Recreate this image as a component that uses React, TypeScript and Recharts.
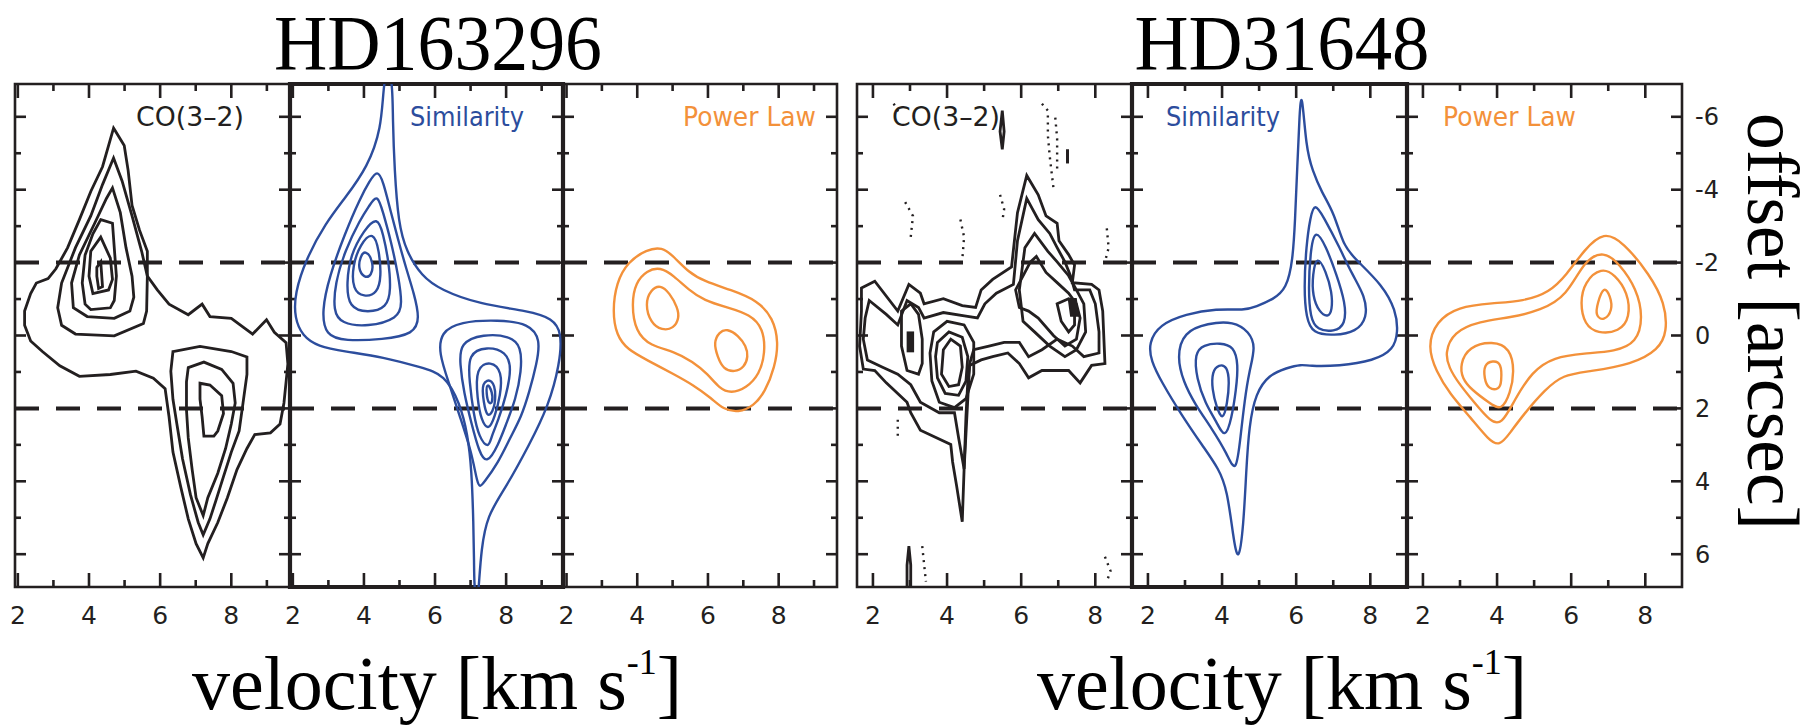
import React from 'react';
import { LineChart, Line, XAxis, YAxis, ReferenceLine, ReferenceArea } from 'recharts';

const INK = '#231f20';
const BLUE = '#2c4d9d';
const ORANGE = '#f3913a';

// offset runs downward on every panel
const OFFSET_DOMAIN = [-6.9, 6.9];
const OFFSET_MAJOR = [-6, -4, -2, 0, 2, 4, 6];
const OFFSET_TICKS = [-6, -5, -4, -3, -2, -1, 0, 1, 2, 3, 4, 5, 6];
const SLIT_EDGES = [-2, 2];
const VEL_MAJOR = [2, 4, 6, 8];
const VEL_TICKS_HD163296 = [2, 3, 4, 5, 6, 7, 8, 9];
const VEL_TICKS_HD31648 = [2, 3, 4, 5, 6, 7, 8];

// ---- HD163296, CO(3-2) ----  [velocity, offset]
const hd1CoOuter = [[4.69,-5.69],[4.99,-5.21],[5.10,-4.53],[5.21,-3.57],[5.42,-2.89],[5.64,-2.31],[5.64,-1.63],[5.92,-1.25],[6.25,-0.86],[6.79,-0.57],[7.18,-0.86],[7.40,-0.52],[8.00,-0.47],[8.60,-0.04],[8.99,-0.43],[9.21,-0.09],[9.54,0.20],[9.59,0.78],[9.54,1.27],[9.48,1.85],[9.37,2.43],[9.10,2.67],[8.66,2.72],[8.44,3.10],[8.16,3.68],[7.89,4.45],[7.62,5.13],[7.34,5.71],[7.21,6.10],[7.01,5.71],[6.79,5.03],[6.58,4.16],[6.36,3.20],[6.25,2.23],[6.14,1.46],[5.81,1.17],[5.32,0.98],[4.60,1.07],[3.73,1.12],[3.18,0.83],[2.69,0.44],[2.36,0.15],[2.19,-0.28],[2.19,-0.67],[2.36,-1.15],[2.52,-1.44],[2.85,-1.56],[3.07,-1.83],[3.40,-2.41],[3.73,-3.18],[4.05,-3.95],[4.38,-4.63],[4.55,-5.21]];
const hd1CoBlue2 = [[4.69,-4.87],[4.93,-4.24],[5.21,-3.28],[5.48,-2.31],[5.64,-1.63],[5.62,-0.67],[5.53,-0.33],[4.71,0.01],[3.62,-0.04],[3.23,-0.28],[3.12,-0.76],[3.23,-1.44],[3.62,-2.41],[4.05,-3.28],[4.38,-4.14]];
const hd1CoBlue3 = [[4.66,-4.05],[4.88,-3.37],[5.04,-2.41],[5.21,-1.63],[5.26,-1.05],[5.15,-0.67],[4.71,-0.47],[3.95,-0.52],[3.56,-0.76],[3.51,-1.44],[3.73,-2.21],[4.16,-3.08],[4.49,-3.76]];
const hd1CoBlue4 = [[4.33,-3.18],[4.66,-3.08],[4.71,-2.41],[4.77,-1.63],[4.71,-0.96],[4.60,-0.76],[4.05,-0.71],[3.89,-0.86],[3.81,-1.44],[3.89,-2.21],[4.11,-2.79]];
const hd1CoBlue5 = [[4.33,-2.70],[4.60,-2.12],[4.66,-1.54],[4.55,-1.25],[4.11,-1.15],[4.00,-1.63],[4.05,-2.31]];
const hd1CoBlue6 = [[4.22,-1.87],[4.33,-2.02],[4.38,-1.34],[4.27,-1.29],[4.22,-1.63]];
const hd1CoRed2 = [[6.36,0.44],[7.12,0.30],[8.00,0.44],[8.44,0.59],[8.44,1.07],[8.33,1.85],[8.22,2.62],[8.00,3.20],[7.78,3.87],[7.56,4.55],[7.40,5.03],[7.21,5.47],[7.07,5.13],[6.85,4.36],[6.63,3.39],[6.47,2.43],[6.36,1.75],[6.30,0.98]];
const hd1CoRed3 = [[6.79,0.88],[7.23,0.73],[7.73,0.93],[8.05,1.31],[8.11,1.85],[8.00,2.43],[7.84,3.10],[7.62,3.78],[7.34,4.45],[7.21,4.94],[7.01,4.45],[6.90,3.68],[6.79,2.81],[6.74,2.04],[6.74,1.27]];
const hd1CoRed4 = [[7.12,1.31],[7.40,1.36],[7.73,1.65],[7.78,2.14],[7.62,2.62],[7.51,2.76],[7.23,2.76],[7.18,2.23],[7.12,1.75]];

// ---- HD163296, similarity model ----
const hd1SimOuter = [[4.68,-7.6],[4.81,-6.77],[4.81,-5.98],[4.86,-4.53],[4.97,-3.08],[5.19,-2.31],[5.62,-1.63],[6.16,-1.25],[7.24,-0.86],[8.65,-0.67],[9.30,-0.47],[9.57,-0.09],[9.51,0.78],[9.19,1.94],[8.65,3.00],[8.00,4.16],[7.46,4.94],[7.30,5.90],[7.24,6.77],[7.17,7.6],[7.10,6.77],[7.10,6.29],[7.08,5.13],[7.03,3.68],[6.92,2.72],[6.70,1.85],[6.27,1.07],[5.62,0.88],[4.54,0.59],[3.46,0.44],[2.70,0.30],[2.27,0.01],[2.05,-0.47],[2.05,-1.15],[2.38,-2.12],[2.92,-3.08],[3.46,-3.76],[4.11,-4.63],[4.49,-5.69],[4.54,-6.77]];
const hd1SimA2 = [[4.38,-4.55],[4.54,-4.24],[4.76,-3.37],[4.97,-2.60],[5.19,-1.83],[5.41,-1.15],[5.57,-0.47],[5.41,-0.04],[4.54,0.11],[3.46,0.15],[2.92,0.01],[2.81,-0.67],[3.03,-1.63],[3.46,-2.79],[3.89,-3.76],[4.16,-4.24]];
const hd1SimA3 = [[4.38,-3.90],[4.54,-3.37],[4.76,-2.60],[4.97,-1.63],[5.08,-0.86],[4.97,-0.47],[4.11,-0.23],[3.35,-0.33],[3.14,-0.67],[3.19,-1.44],[3.46,-2.31],[3.89,-3.18],[4.16,-3.57]];
const hd1SimA4 = [[4.38,-3.28],[4.54,-2.79],[4.70,-2.02],[4.76,-1.25],[4.65,-0.76],[4.11,-0.62],[3.57,-0.76],[3.51,-1.44],[3.62,-2.21],[4.00,-2.89]];
const hd1SimA5 = [[4.27,-2.89],[4.43,-2.31],[4.49,-1.63],[4.38,-1.15],[4.00,-1.05],[3.68,-1.25],[3.68,-1.92],[3.89,-2.50]];
const hd1SimA6 = [[4.05,-2.36],[4.27,-2.02],[4.22,-1.63],[4.00,-1.58],[3.84,-1.83],[3.89,-2.16]];
const hd1SimB2 = [[6.16,-0.09],[6.70,-0.38],[7.78,-0.43],[8.65,-0.33],[8.97,0.11],[8.86,0.78],[8.65,1.56],[8.43,2.23],[8.11,2.81],[7.78,3.49],[7.35,4.07],[7.27,4.15],[7.19,4.07],[7.03,3.20],[6.70,2.23],[6.38,1.27],[6.11,0.49]];
const hd1SimB3 = [[6.70,0.20],[7.35,-0.04],[8.11,0.01],[8.43,0.30],[8.43,0.98],[8.27,1.75],[8.00,2.43],[7.78,3.00],[7.46,3.54],[7.24,3.20],[7.03,2.43],[6.81,1.56],[6.70,0.78]];
const hd1SimB4 = [[6.92,0.49],[7.46,0.30],[8.00,0.44],[8.16,0.88],[8.00,1.65],[7.78,2.33],[7.57,2.81],[7.51,3.10],[7.24,2.81],[7.08,2.14],[6.97,1.27]];
const hd1SimB5 = [[7.14,0.88],[7.57,0.69],[7.89,0.98],[7.84,1.65],[7.68,2.23],[7.51,2.62],[7.30,2.33],[7.19,1.75]];
const hd1SimB6 = [[7.30,1.27],[7.62,1.17],[7.73,1.65],[7.62,2.14],[7.46,2.23],[7.37,1.85]];
const hd1SimB7 = [[7.46,1.27],[7.62,1.56],[7.62,1.85],[7.51,1.89],[7.44,1.60]];

// ---- HD163296, power-law model ----
const hd1PlOuter = [[3.30,-0.67],[3.41,-1.45],[3.73,-2.02],[4.27,-2.36],[4.70,-2.43],[5.03,-2.17],[5.46,-1.73],[5.89,-1.49],[6.65,-1.25],[7.41,-0.96],[7.84,-0.48],[8.00,0.19],[7.89,0.87],[7.62,1.54],[7.30,1.93],[6.86,2.12],[6.43,2.02],[6.11,1.73],[5.57,1.35],[5.03,1.06],[4.27,0.67],[3.73,0.39],[3.41,0.00]];
const hd1PlMid = [[3.84,-0.87],[3.95,-1.45],[4.27,-1.78],[4.65,-1.88],[5.03,-1.64],[5.46,-1.25],[5.89,-0.96],[6.54,-0.77],[7.19,-0.58],[7.57,-0.19],[7.62,0.48],[7.46,1.06],[7.08,1.45],[6.65,1.59],[6.32,1.45],[6.00,1.06],[5.57,0.72],[5.03,0.43],[4.38,0.29],[3.95,-0.10]];
const hd1PlInA = [[4.22,-0.87],[4.38,-1.25],[4.65,-1.40],[4.92,-1.16],[5.14,-0.77],[5.19,-0.48],[5.03,-0.19],[4.70,-0.14],[4.38,-0.34]];
const hd1PlInB = [[6.16,0.19],[6.32,-0.10],[6.54,-0.19],[6.86,0.00],[7.08,0.29],[7.14,0.58],[7.03,0.87],[6.76,1.01],[6.43,0.92],[6.27,0.58]];

// ---- HD31648, CO(3-2) ----
const hd2CoOuter = [[1.69,-1.30],[2.05,-1.49],[2.67,-0.67],[2.97,-1.40],[3.28,-1.16],[3.38,-0.87],[3.90,-1.01],[4.41,-0.82],[4.77,-0.77],[4.92,-1.25],[5.23,-1.54],[5.74,-1.88],[5.90,-3.37],[6.15,-4.39],[6.46,-3.86],[6.67,-3.28],[6.97,-3.08],[7.02,-2.60],[7.28,-2.22],[7.44,-1.93],[7.38,-1.45],[7.90,-1.40],[8.10,-1.25],[8.20,-0.67],[8.26,0.77],[7.90,0.82],[7.59,1.30],[7.28,0.96],[6.56,0.96],[6.20,1.16],[5.95,0.77],[5.64,0.48],[5.23,0.58],[4.92,0.67],[4.61,0.82],[4.56,1.25],[4.51,2.22],[4.46,3.66],[4.41,5.11],[4.26,4.14],[4.15,3.47],[4.10,2.99],[3.28,2.60],[3.02,2.12],[2.92,1.83],[2.36,1.30],[2.05,0.96],[1.74,0.92],[1.64,0.29],[1.69,-0.67]];
const hd2Co2 = [[1.90,-0.96],[2.36,-0.58],[2.67,-0.29],[2.92,-0.96],[3.23,-0.77],[3.38,-0.48],[3.90,-0.63],[4.51,-0.53],[4.82,-0.48],[5.02,-0.87],[5.33,-1.16],[5.79,-1.40],[5.90,-2.60],[6.15,-3.76],[6.46,-3.18],[6.77,-2.80],[6.97,-2.41],[7.18,-2.02],[7.33,-1.64],[7.44,-1.25],[7.85,-1.25],[8.00,-0.87],[8.10,-0.10],[8.10,0.48],[7.69,0.58],[7.38,0.29],[6.97,0.10],[6.56,0.39],[6.20,0.58],[5.95,0.19],[5.54,0.19],[5.13,0.29],[4.72,0.39],[4.61,0.77],[4.56,1.73],[4.51,2.70],[4.46,3.66],[4.31,2.80],[4.20,2.12],[3.79,2.12],[3.28,1.83],[3.02,1.35],[2.67,1.06],[2.26,0.87],[1.85,0.67],[1.74,0.10],[1.79,-0.48]];
const hd2CoWest3 = [[2.77,-0.67],[3.02,-0.87],[3.23,-0.58],[3.33,0.10],[3.33,0.77],[3.23,1.06],[2.92,0.96],[2.77,0.29]];
const hd2CoWestCore = [[2.97,-0.05],[3.05,-0.05],[3.05,0.40],[2.97,0.40]];
const hd2CoMid3 = [[3.64,-0.10],[4.00,-0.39],[4.46,-0.29],[4.72,0.19],[4.72,1.06],[4.51,1.73],[4.20,1.98],[3.79,1.83],[3.59,1.25],[3.54,0.48]];
const hd2CoMid4 = [[3.74,0.19],[4.05,-0.10],[4.41,0.05],[4.56,0.58],[4.51,1.25],[4.31,1.64],[3.95,1.59],[3.74,1.16],[3.69,0.58]];
const hd2CoMid5 = [[3.90,0.39],[4.10,0.10],[4.36,0.29],[4.41,0.87],[4.31,1.35],[4.05,1.40],[3.85,1.06]];
const hd2CoEast3 = [[5.95,-1.25],[6.10,-2.41],[6.36,-2.80],[6.72,-2.31],[6.97,-2.02],[7.28,-1.64],[7.49,-1.25],[7.69,-0.87],[7.74,-0.10],[7.49,0.39],[7.18,0.58],[6.77,0.29],[6.36,-0.10],[6.05,-0.39]];
const hd2CoEast4 = [[5.85,-1.25],[6.25,-2.02],[6.41,-2.17],[6.67,-1.73],[6.97,-1.45],[7.28,-1.16],[7.49,-0.87],[7.59,-0.48],[7.49,0.10],[7.18,0.29],[6.87,0.00],[6.46,-0.48],[6.20,-0.67],[5.95,-0.77]];
const hd2CoEast5 = [[6.97,-0.87],[7.28,-1.01],[7.44,-0.77],[7.44,-0.29],[7.28,-0.10],[7.08,-0.39]];
const hd2CoEastCore = [[7.33,-0.96],[7.44,-0.96],[7.49,-0.58],[7.38,-0.58]];
const hd2CoIsleA = [[5.49,-6.17],[5.54,-5.60],[5.49,-5.11],[5.43,-5.60]];
const hd2CoIsleB = [[2.97,5.78],[3.02,6.30],[3.02,7.00],[2.92,7.00],[2.92,6.30]];
const hd2CoStub = [[7.25,-5.11],[7.25,-4.72]];
// negative (dotted) contours
const hd2NegA = [[2.56,-6.36],[2.72,-6.07]];
const hd2NegB = [[6.56,-6.36],[6.72,-6.17],[6.72,-5.49],[6.77,-4.92],[6.87,-4.05]];
const hd2NegC = [[6.92,-5.98],[6.97,-5.40],[6.97,-4.53]];
const hd2NegD = [[2.87,-3.66],[3.08,-3.28],[3.02,-2.70]];
const hd2NegE = [[4.36,-3.18],[4.46,-2.70],[4.41,-2.07]];
const hd2NegF = [[5.43,-3.86],[5.54,-3.47],[5.49,-3.13]];
const hd2NegG = [[8.31,-2.94],[8.36,-2.41],[8.26,-2.02]];
const hd2NegH = [[2.67,2.31],[2.67,2.89]];
const hd2NegI = [[3.33,5.78],[3.38,6.27],[3.43,6.75]];
const hd2NegJ = [[8.26,6.07],[8.41,6.46],[8.31,6.75]];

// ---- HD31648, similarity model ----
const hd2SimOuter = [[6.15,-6.80],[6.27,-5.12],[6.44,-4.53],[6.68,-3.94],[7.03,-3.35],[7.27,-2.46],[7.62,-2.07],[8.33,-1.38],[8.69,-0.69],[8.75,-0.10],[8.63,0.39],[8.10,0.69],[7.15,0.84],[6.33,0.84],[6.15,0.79],[5.74,0.89],[5.26,1.08],[4.91,1.58],[4.73,2.46],[4.65,3.74],[4.58,5.22],[4.44,6.31],[4.30,5.52],[4.14,4.24],[3.91,3.65],[3.49,3.05],[2.90,2.17],[2.37,1.28],[2.08,0.69],[2.02,0.20],[2.31,-0.30],[3.02,-0.59],[3.85,-0.74],[4.61,-0.69],[4.91,-0.79],[5.38,-0.99],[5.74,-1.28],[5.91,-2.07],[5.97,-3.15],[6.03,-4.63],[6.09,-6.11]];
const hd2SimN2 = [[6.50,-3.65],[6.74,-3.25],[7.15,-2.46],[7.51,-1.67],[7.86,-1.08],[7.92,-0.49],[7.62,-0.10],[7.03,0.00],[6.44,-0.05],[6.27,-0.49],[6.21,-1.28],[6.27,-2.46],[6.38,-3.25]];
const hd2SimN3 = [[6.50,-2.96],[6.80,-2.46],[7.09,-1.67],[7.33,-0.89],[7.33,-0.30],[7.03,-0.10],[6.56,-0.15],[6.38,-0.49],[6.33,-1.28],[6.38,-2.27]];
const hd2SimN4 = [[6.56,-2.22],[6.80,-1.77],[6.97,-1.18],[6.97,-0.69],[6.86,-0.49],[6.62,-0.64],[6.44,-1.08],[6.44,-1.67]];
const hd2SimS2 = [[2.78,0.59],[2.96,-0.10],[3.61,-0.34],[4.32,-0.39],[4.73,-0.10],[4.91,0.30],[4.73,0.99],[4.61,1.77],[4.50,2.76],[4.38,3.84],[4.14,3.25],[3.73,2.56],[3.26,1.87],[2.96,1.28]];
const hd2SimS3 = [[3.26,0.49],[3.49,0.25],[3.96,0.20],[4.32,0.30],[4.44,0.79],[4.38,1.48],[4.26,2.27],[4.08,2.86],[3.85,2.36],[3.55,1.87],[3.31,1.18]];
const hd2SimS4 = [[3.73,0.99],[3.91,0.79],[4.14,0.84],[4.20,1.28],[4.14,1.87],[4.02,2.36],[3.85,1.97],[3.73,1.48]];

// ---- HD31648, power-law model ----
const hd2PlOuter = [[2.12,0.30],[2.36,-0.39],[2.94,-0.79],[3.88,-0.89],[4.71,-0.94],[5.41,-1.18],[5.88,-1.67],[6.36,-2.36],[6.88,-2.86],[7.41,-2.56],[8.12,-1.67],[8.53,-0.89],[8.59,-0.10],[8.36,0.39],[7.65,0.79],[6.47,0.99],[5.77,1.08],[5.30,1.48],[4.71,2.17],[4.36,2.66],[4.06,3.05],[3.77,2.86],[3.30,2.27],[2.71,1.58],[2.36,0.99]];
const hd2PlMid = [[2.59,0.49],[2.82,-0.10],[3.53,-0.39],[4.36,-0.49],[5.18,-0.69],[5.88,-1.08],[6.36,-2.07],[6.88,-2.32],[7.30,-1.97],[7.77,-1.28],[7.94,-0.49],[7.77,0.20],[7.18,0.44],[6.36,0.49],[5.53,0.59],[4.94,0.99],[4.47,1.77],[4.12,2.46],[3.82,2.36],[3.41,1.87],[2.94,1.28],[2.71,0.89]];
const hd2PlInW = [[3.00,0.79],[3.24,0.30],[3.88,0.15],[4.36,0.34],[4.47,0.99],[4.36,1.58],[4.12,2.07],[3.82,1.87],[3.30,1.48],[3.06,1.18]];
const hd2PlCoreW = [[3.65,0.79],[3.88,0.69],[4.12,0.74],[4.12,1.28],[4.06,1.48],[3.77,1.48],[3.65,1.18]];
const hd2PlInE = [[6.24,-0.89],[6.36,-1.48],[6.82,-1.87],[7.18,-1.67],[7.53,-1.18],[7.59,-0.49],[7.30,-0.10],[6.71,-0.05],[6.36,-0.30]];
const hd2PlCoreE = [[6.71,-0.89],[6.88,-1.38],[7.06,-1.08],[7.12,-0.69],[6.88,-0.39],[6.65,-0.54]];

type Contour = { pts: number[][]; color: string; curve: string; width?: number; dash?: string };

const obs = (pts: number[][], width = 2.8): Contour => ({ pts, color: INK, curve: 'linearClosed', width });
const neg = (pts: number[][]): Contour => ({ pts, color: INK, curve: 'linear', width: 2.4, dash: '2 5' });
const model = (pts: number[][], color: string): Contour => ({ pts, color, curve: 'basisClosed', width: 2.4 });

const TOP = 84;
const PH = 503;
const BOT = 50;
const M = 10;
const RLAB = 50;

const panels = [
  { left: 15, width: 275, domain: [1.92, 9.65], ticks: VEL_TICKS_HD163296, frame: 2.6,
    contours: [hd1CoOuter, hd1CoBlue2, hd1CoBlue3, hd1CoBlue4, hd1CoBlue5, hd1CoBlue6, hd1CoRed2, hd1CoRed3, hd1CoRed4].map((p) => obs(p)) },
  { left: 290, width: 273, domain: [1.92, 9.6], ticks: VEL_TICKS_HD163296, frame: 4.2,
    contours: [hd1SimOuter, hd1SimA2, hd1SimA3, hd1SimA4, hd1SimA5, hd1SimA6, hd1SimB2, hd1SimB3, hd1SimB4, hd1SimB5, hd1SimB6, hd1SimB7].map((p) => model(p, BLUE)) },
  { left: 563, width: 274, domain: [1.9, 9.65], ticks: VEL_TICKS_HD163296, frame: 2.6,
    contours: [hd1PlOuter, hd1PlMid, hd1PlInA, hd1PlInB].map((p) => model(p, ORANGE)) },
  { left: 857, width: 275, domain: [1.57, 8.99], ticks: VEL_TICKS_HD31648, frame: 2.6,
    contours: [
      ...[hd2CoOuter, hd2Co2, hd2CoWest3, hd2CoMid3, hd2CoMid4, hd2CoMid5, hd2CoEast3, hd2CoEast4, hd2CoEast5, hd2CoIsleA, hd2CoIsleB].map((p) => obs(p)),
      obs(hd2CoWestCore, 4.5), obs(hd2CoEastCore, 5),
      { pts: hd2CoStub, color: INK, curve: 'linear', width: 3 },
      ...[hd2NegA, hd2NegB, hd2NegC, hd2NegD, hd2NegE, hd2NegF, hd2NegG, hd2NegH, hd2NegI, hd2NegJ].map(neg),
    ] },
  { left: 1132, width: 275, domain: [1.57, 8.99], ticks: VEL_TICKS_HD31648, frame: 4.2,
    contours: [hd2SimOuter, hd2SimN2, hd2SimN3, hd2SimN4, hd2SimS2, hd2SimS3, hd2SimS4].map((p) => model(p, BLUE)) },
  { left: 1407, width: 275, domain: [1.57, 8.99], ticks: VEL_TICKS_HD31648, frame: 2.6, labels: true,
    contours: [hd2PlOuter, hd2PlMid, hd2PlInW, hd2PlCoreW, hd2PlInE, hd2PlCoreE].map((p) => model(p, ORANGE)) },
];

const rows = (pts: number[][]) => pts.map(([v, o]) => ({ v, o }));

const sans = '"DejaVu Sans", Verdana, sans-serif';
const serif = '"Liberation Serif", "Times New Roman", serif';

// inward tick marks, drawn at both ends of a full-height / full-width guide
const velMark = (len: number) => (p: any) => {
  const top = Math.min(p.y1, p.y2);
  const bot = Math.max(p.y1, p.y2);
  return (
    <g>
      <line x1={p.x1} x2={p.x1} y1={bot} y2={bot - len} stroke={INK} strokeWidth={2.6} />
      <line x1={p.x1} x2={p.x1} y1={top} y2={top + len} stroke={INK} strokeWidth={2.6} />
    </g>
  );
};
const offMark = (len: number) => (p: any) => {
  const l = Math.min(p.x1, p.x2);
  const r = Math.max(p.x1, p.x2);
  return (
    <g>
      <line x1={l} x2={l + len} y1={p.y1} y2={p.y1} stroke={INK} strokeWidth={2.6} />
      <line x1={r} x2={r - len} y1={p.y1} y2={p.y1} stroke={INK} strokeWidth={2.6} />
    </g>
  );
};

function Panel({ left, width, domain, ticks, frame, contours, labels }: any) {
  const chartW = width + 2 * M + (labels ? RLAB : 0);
  return (
    <div style={{ position: 'absolute', left: left - M, top: TOP - M }}>
      <LineChart width={chartW} height={PH + M + BOT} margin={{ top: M, right: M, bottom: 0, left: M }}>
        <XAxis type="number" dataKey="v" domain={domain} allowDataOverflow ticks={VEL_MAJOR} interval={0}
          height={BOT} axisLine={false} tickLine={false} tickSize={0} tickMargin={19}
          tick={{ fill: INK, fontSize: 25, fontFamily: sans }} />
        <YAxis type="number" dataKey="o" domain={OFFSET_DOMAIN} reversed allowDataOverflow hide />
        {labels && (
          <YAxis yAxisId="rLab" type="number" domain={OFFSET_DOMAIN} reversed allowDataOverflow orientation="right"
            ticks={OFFSET_MAJOR} interval={0} width={RLAB} axisLine={false} tickLine={false} tickSize={0} tickMargin={13}
            tick={{ fill: INK, fontSize: 24, fontFamily: sans }} />
        )}

        {ticks.map((t: number) => (
          <ReferenceLine key={`v${t}`} x={t} stroke="none" shape={velMark(t % 2 === 0 ? 14 : 7)} />
        ))}
        {OFFSET_TICKS.map((t) => (
          <ReferenceLine key={`o${t}`} y={t} stroke="none" shape={offMark(t % 2 === 0 ? 11 : 6)} />
        ))}
        {SLIT_EDGES.map((y) => (
          <ReferenceLine key={`s${y}`} y={y} stroke={INK} strokeWidth={4} strokeDasharray="24 17" />
        ))}
        {contours.map((c: Contour, i: number) => (
          <Line key={i} data={rows(c.pts)} dataKey="o" type={c.curve as any} stroke={c.color}
            strokeWidth={c.width} strokeDasharray={c.dash} dot={false} activeDot={false}
            isAnimationActive={false} />
        ))}
        <ReferenceArea x1={domain[0]} x2={domain[1]} y1={OFFSET_DOMAIN[0]} y2={OFFSET_DOMAIN[1]}
          fill="none" fillOpacity={0} stroke={INK} strokeWidth={frame} />
      </LineChart>
    </div>
  );
}

const panelLabel = { fontFamily: sans, fontSize: 26 };

export default function App() {
  return (
    <div style={{ position: 'absolute', left: 0, top: 0, width: 1816, height: 725, background: '#fff', overflow: 'hidden' }}>
      {panels.map((p, i) => <Panel key={i} {...p} />)}
      <svg width={1816} height={725} style={{ position: 'absolute', left: 0, top: 0, pointerEvents: 'none' }}>
        <text x={438} y={69} textAnchor="middle" fontFamily={serif} fontSize={78} textLength={328} lengthAdjust="spacingAndGlyphs">HD163296</text>
        <text x={1282} y={69} textAnchor="middle" fontFamily={serif} fontSize={78} textLength={295} lengthAdjust="spacingAndGlyphs">HD31648</text>

        <text x={136} y={126} fill={INK} {...panelLabel} textLength={108} lengthAdjust="spacingAndGlyphs">CO(3–2)</text>
        <text x={410} y={126} fill={BLUE} {...panelLabel} textLength={114} lengthAdjust="spacingAndGlyphs">Similarity</text>
        <text x={683} y={126} fill={ORANGE} {...panelLabel} textLength={133} lengthAdjust="spacingAndGlyphs">Power Law</text>
        <text x={892} y={126} fill={INK} {...panelLabel} textLength={108} lengthAdjust="spacingAndGlyphs">CO(3–2)</text>
        <text x={1166} y={126} fill={BLUE} {...panelLabel} textLength={114} lengthAdjust="spacingAndGlyphs">Similarity</text>
        <text x={1443} y={126} fill={ORANGE} {...panelLabel} textLength={133} lengthAdjust="spacingAndGlyphs">Power Law</text>

        <text x={192} y={709} fontFamily={serif} fontSize={76}>
          velocity [km s<tspan dy={-35} fontSize={36}>-1</tspan><tspan dy={35}>]</tspan>
        </text>
        <text x={1037} y={709} fontFamily={serif} fontSize={76}>
          velocity [km s<tspan dy={-35} fontSize={36}>-1</tspan><tspan dy={35}>]</tspan>
        </text>
        <text transform="translate(1748,321.5) rotate(90)" textAnchor="middle" fontFamily={serif} fontSize={74}
          textLength={417} lengthAdjust="spacingAndGlyphs">offset [arcsec]</text>
      </svg>
    </div>
  );
}
